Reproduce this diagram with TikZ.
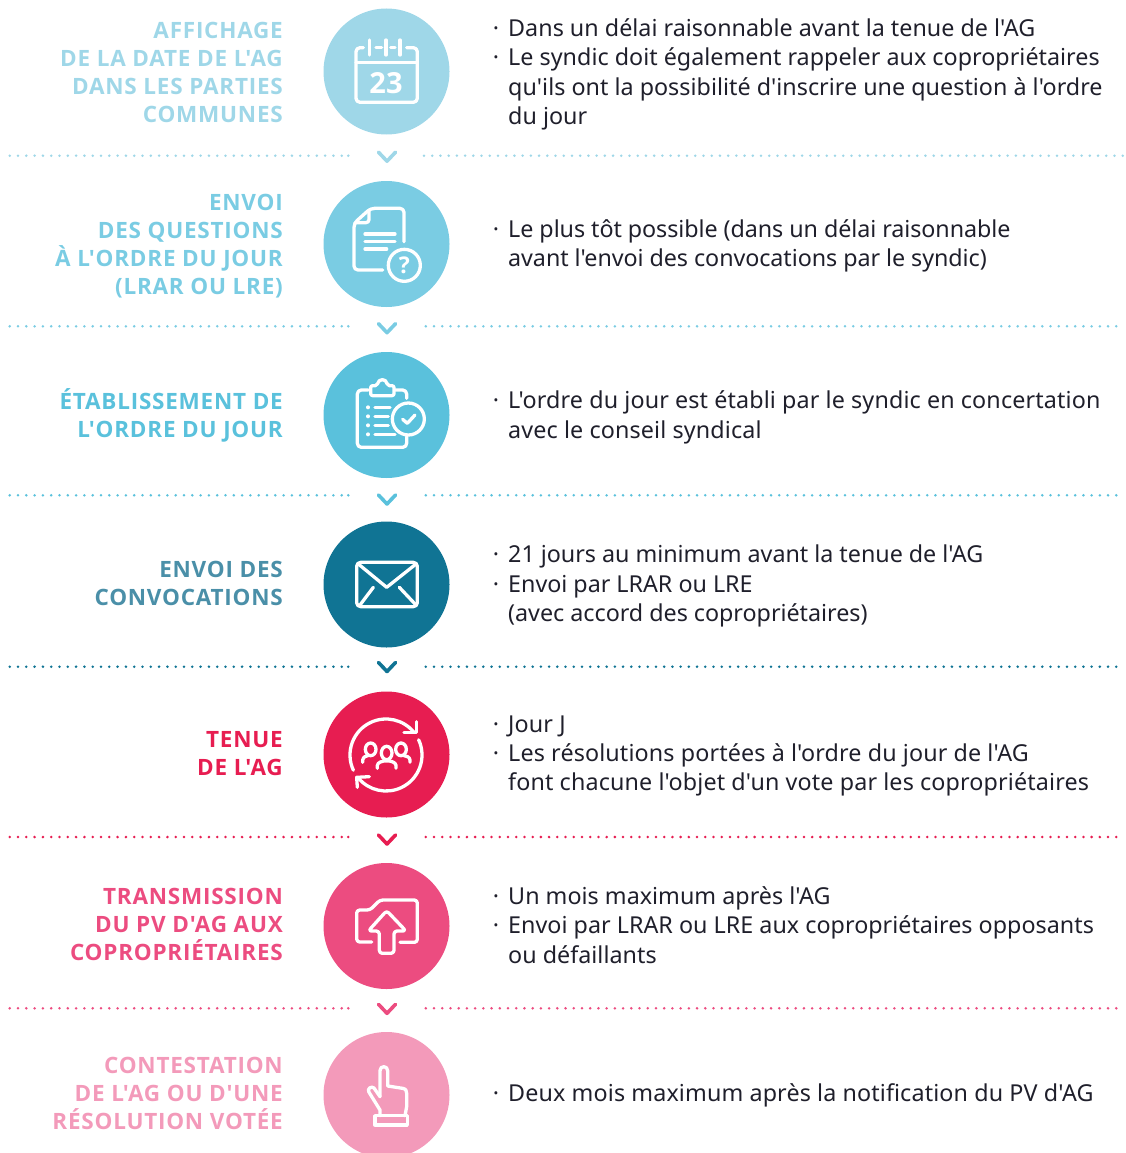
\documentclass[tikz,border=0pt]{standalone}
\usepackage{fontspec}
\setmainfont{Noto Sans}[Ligatures=TeXOff]
\newfontfamily\headfont{Open Sans}[Ligatures=TeXOff,LetterSpace=3.4]
\newfontfamily\iconfont{Open Sans}
\definecolor{ca}{HTML}{9FD7E8}
\definecolor{cb}{HTML}{7ACCE3}
\definecolor{cc}{HTML}{5AC1DC}
\definecolor{cd}{HTML}{107494}
\definecolor{ce}{HTML}{E71D51}
\definecolor{cf}{HTML}{EC4C80}
\definecolor{cg}{HTML}{F39ABA}
\definecolor{hd}{HTML}{4A8FA8}
\definecolor{bodytext}{HTML}{1F1F2B}
\newcommand{\bul}{\leavevmode\llap{\textperiodcentered\hspace{9pt}}}
\tikzset{
  x=1pt,y=-1pt,
  disc/.style={circle,inner sep=0pt,minimum size=126pt},
  headtext/.style={anchor=east,align=right,inner sep=0pt,font=\fontsize{22.5}{28}\selectfont\headfont\bfseries},
  bodyblock/.style={anchor=west,align=left,inner sep=0pt,text=bodytext,font=\fontsize{23.3}{29.4}\selectfont\addfontfeature{LetterSpace=#1}},
  dotline/.style={line width=2.8pt,line cap=round,dash pattern=on 0pt off 8.3pt},
  dotlineb/.style={line width=2.8pt,line cap=round,dash pattern=on 0pt off 8.22pt},
  chev/.style={line width=3.6pt,line cap=round,line join=round},
  ico/.style={draw=white,line width=3.3pt,line cap=round,line join=round},
  zoomed/.style={shift={(300,#1)},x=0.33333pt,y=-0.33333pt},
}
\begin{document}
\begin{tikzpicture}
\useasboundingbox (0,0) rectangle (1125,1153);
\clip (0,0) rectangle (1125,1153);
% discs
\node[disc,fill=ca] (d1) at (386.5,71.5) {};
\node[disc,fill=cb] (d2) at (386.5,244) {};
\node[disc,fill=cc] (d3) at (386.5,415) {};
\node[disc,fill=cd] (d4) at (386.5,584.5) {};
\node[disc,fill=ce] (d5) at (386.5,754.5) {};
\node[disc,fill=cf] (d6) at (386.5,926) {};
\node[disc,fill=cg] (d7) at (386.5,1095) {};
% headings
\node[headtext,text=ca] (h1) at (283,72) {AFFICHAGE\\DE LA DATE DE L'AG\\DANS LES PARTIES\\COMMUNES};
\node[headtext,text=cb] (h2) at (283,246) {ENVOI\\DES QUESTIONS\\À L'ORDRE DU JOUR\\(LRAR OU LRE)};
\node[headtext,text=cc] (h3) at (283,415) {ÉTABLISSEMENT DE\\L'ORDRE DU JOUR};
\node[headtext,text=hd] (h4) at (283,583) {ENVOI DES\\CONVOCATIONS};
\node[headtext,text=ce] (h5) at (283,754) {TENUE\\DE L'AG};
\node[headtext,text=cf] (h6) at (283,924) {TRANSMISSION\\DU PV D'AG AUX\\COPROPRIÉTAIRES};
\node[headtext,text=cg] (h7) at (283,1093) {CONTESTATION\\DE L'AG OU D'UNE\\RÉSOLUTION VOTÉE};
% body text
\node[bodyblock=0.1] (b1) at (508,74.5) {\bul Dans un délai raisonnable avant la tenue de l'AG\\\bul Le syndic doit également rappeler aux copropriétaires\\qu'ils ont la possibilité d'inscrire une question à l'ordre\\du jour};
\node[bodyblock=-0.3] (b2) at (508,246) {\bul Le plus tôt possible (dans un délai raisonnable\\avant l'envoi des convocations par le syndic)};
\node[bodyblock=0.6] (b3) at (508,417.5) {\bul L'ordre du jour est établi par le syndic en concertation\\avec le conseil syndical};
\node[bodyblock=-0.1] (b4) at (508,586) {\bul 21 jours au minimum avant la tenue de l'AG\\\bul Envoi par LRAR ou LRE\\(avec accord des copropriétaires)};
\node[bodyblock=0.6] (b5) at (508,756) {\bul Jour J\\\bul Les résolutions portées à l'ordre du jour de l'AG\\font chacune l'objet d'un vote par les copropriétaires};
\node[bodyblock=0.1] (b6) at (508,925) {\bul Un mois maximum après l'AG\\\bul Envoi par LRAR ou LRE aux copropriétaires opposants\\ou défaillants};
\node[bodyblock=0.6] (b7) at (508,1095.5) {\bul Deux mois maximum après la notification du PV d'AG};
% separators
\foreach \yy/\ch/\cc/\xs/\xe in {155.7/156.7/ca/424/1125.5,326.3/328.2/cb/425.8/1118,495.3/499.5/cc/425.8/1118,666.7/667/cd/425.8/1118,837/839.5/ce/425.8/1118,1008.3/1008.8/cf/425.8/1118}{
  \draw[dotline,draw=\cc] (9.7,\yy) -- (342,\yy);
  \fill[\cc] (348.3,\yy) circle[radius=1.4];
  \draw[dotlineb,draw=\cc] (\xs,\yy) -- (\xe,\yy);
  \draw[chev,draw=\cc] (378.5,\ch-4.5) -- (387,\ch+4.5) -- (395.5,\ch-4.5);
}
% icon 1 calendar
\begin{scope}[zoomed=0]
\draw[ico] (190,143) -- (178,143) [rounded corners=4pt] -- (168,143) -- (168,307) -- (352,307) -- (352,143) -- (320,143);
\draw[ico] (168,188) -- (352,188);
\draw[ico] (208,120) -- (208,165) (258,120) -- (258,165) (300,120) -- (300,165);
\draw[ico] (228,143) -- (245,143) (272,143) -- (285,143);
\node[text=white,font=\fontsize{29}{29}\selectfont\iconfont\bfseries] (n23) at (258,248) {23};
\end{scope}
% icon 2 document
\begin{scope}[zoomed=0]
\draw[ico,rounded corners=4pt] (312,725) -- (312,625) -- (212,625) -- (162,670) -- (162,810) -- (248,810);
\draw[ico,rounded corners=3pt] (207,630) -- (207,668) -- (165,668);
\draw[ico] (195,702) -- (285,702) (195,725) -- (285,725) (195,747) -- (260,747);
\draw[ico] (313,796) circle[radius=48];
\node[text=white,font=\fontsize{23}{23}\selectfont\iconfont\bfseries] (qm) at (313,796) {?};
\end{scope}
% icon 3 clipboard
\begin{scope}[zoomed=340]
\draw[ico,rounded corners=4pt] (205,150) -- (172,150) -- (172,322) -- (320,322) -- (320,290);
\draw[ico,rounded corners=4pt] (285,150) -- (320,150) -- (320,175);
\draw[ico,rounded corners=2pt] (212,167) -- (212,137) -- (232,137) .. controls (235,115) and (259,115) .. (262,137) -- (282,137) -- (282,167) -- cycle;
\fill[white] (204,202) circle[radius=6] (204,229) circle[radius=6] (204,256) circle[radius=6] (204,283) circle[radius=6];
\draw[ico] (225,202) -- (270,202) (225,229) -- (265,229) (225,256) -- (265,256) (225,283) -- (285,283);
\draw[ico] (325,237) circle[radius=48];
\draw[ico] (308,238) -- (322,250) -- (345,225);
\end{scope}
% icon 4 envelope
\begin{scope}[zoomed=340]
\draw[ico,rounded corners=4pt] (170,667) rectangle (352,800);
\draw[ico] (175,672) -- (260,742) -- (348,672);
\draw[ico] (180,795) -- (220,742) (298,742) -- (348,795);
\end{scope}
% icon 5 meeting
\begin{scope}[zoomed=680]
\draw[ico] (258,225) ++(155:108 and 108) arc[start angle=155,end angle=321,radius=108];
\draw[ico] (258,225) ++(-25:108 and 108) arc[start angle=-25,end angle=140,radius=108];
\draw[ico] (350,125) -- (350,157) -- (312,157);
\draw[ico] (172,322) -- (170,292) -- (208,290);
\draw[ico] (260,219) ellipse[x radius=16,y radius=20];
\draw[ico] (212,208) ellipse[x radius=16,y radius=19];
\draw[ico] (303,208) ellipse[x radius=16,y radius=19];
\draw[ico] (232,265) -- (232,256) .. controls (234,238) and (286,238) .. (288,256) -- (288,265);
\draw[ico] (188,247) -- (188,240) .. controls (190,230) and (198,228) .. (204,227);
\draw[ico] (330,247) -- (330,240) .. controls (328,230) and (320,228) .. (312,227);
\end{scope}
% icon 6 upload
\begin{scope}[zoomed=850]
\draw[ico,rounded corners=3pt] (215,276) -- (170,276) -- (170,180) -- (210,180) -- (240,150) -- (352,150) -- (352,277) -- (300,277);
\draw[ico,rounded corners=3pt] (260,182) -- (205,243) -- (238,243) -- (238,310) -- (282,310) -- (282,243) -- (318,243) -- cycle;
\end{scope}
% icon 7 hand
\begin{scope}[zoomed=850]
\draw[ico] (240,740) -- (240,662) .. controls (240,646) and (263,646) .. (263,662) -- (263,708) -- (308,715) .. controls (318,717) and (320,722) .. (320,730) -- (320,770) -- (315,797);
\draw[ico] (240,740) -- (222,714) .. controls (215,708) and (202,714) .. (206,725) -- (240,780) -- (240,797);
\draw[ico] (225,797) rectangle (322,825);
\end{scope}
\end{tikzpicture}
\end{document}
